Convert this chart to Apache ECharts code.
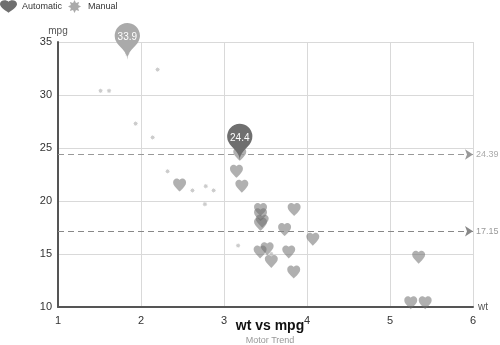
<!DOCTYPE html>
<html>
<head>
<meta charset="utf-8">
<script src="https://cdn.jsdelivr.net/npm/echarts@6/dist/echarts.min.js"></script>
<style>html,body{margin:0;padding:0;background:#fff}#c{width:500px;height:345px}</style>
</head>
<body>
<div id="c"></div>
<script>
// Automatic (am = 0)
var autoWt  = [3.215, 3.440, 3.460, 3.570, 3.190, 3.150, 3.440, 3.440, 4.070, 3.730, 3.780, 5.250, 5.424, 5.345, 2.465, 3.520, 3.435, 3.840, 3.845];
var autoMpg = [21.4, 18.7, 18.1, 14.3, 24.4, 22.8, 19.2, 17.8, 16.4, 17.3, 15.2, 10.4, 10.4, 14.7, 21.5, 15.5, 15.2, 13.3, 19.2];
// Manual (am = 1)
var manWt  = [2.620, 2.875, 2.320, 2.200, 1.615, 1.835, 1.935, 2.140, 1.513, 3.170, 2.770, 3.570, 2.780];
var manMpg = [21.0, 21.0, 22.8, 32.4, 30.4, 33.9, 27.3, 26.0, 30.4, 15.8, 19.7, 15.0, 21.4];
var seriesNames = ['Automatic', 'Manual'];
var xTicks = [1, 2, 3, 4, 5, 6];
var yTicks = [10, 15, 20, 25, 30, 35];

var heartAbs = 'M12,21.35 L10.55,20.03 C5.4,15.36 2,12.28 2,8.5 C2,5.42 4.42,3 7.5,3 C9.24,3 10.91,3.81 12,5.09 C13.09,3.81 14.76,3 16.5,3 C19.58,3 22,5.42 22,8.5 C22,12.28 18.6,15.36 13.45,20.04 L12,21.35 Z';
function scaleX(p, sx) {
  return p.replace(/(-?\d+(?:\.\d+)?),(-?\d+(?:\.\d+)?)/g, function (m, a, b) { return (parseFloat(a) * sx).toFixed(2) + ',' + b; });
}
var heart = 'path://' + heartAbs;
var heartWide = 'path://' + scaleX(heartAbs, 1.25);
var star = 'path://M10,0L12.3,4.46L17.07,2.93L15.54,7.7L20,10L15.54,12.3L17.07,17.07L12.3,15.54L10,20L7.7,15.54L2.93,17.07L4.46,12.3L0,10L4.46,7.7L2.93,2.93L7.7,4.46Z';

function pairs(xs, ys) { return xs.map(function (x, i) { return [x, ys[i]]; }); }
function avgLabel(p) { return p.value.toFixed(2); }

var chart = echarts.init(document.getElementById('c'), null, {renderer: 'canvas'});
chart.setOption({
  animation: false,
  title: {
    text: 'wt vs mpg', subtext: 'Motor Trend',
    left: 265, top: 314, textAlign: 'center', itemGap: 3,
    textStyle: {fontSize: 14, fontWeight: 'bold', color: '#111', fontFamily: 'Liberation Sans'},
    subtextStyle: {fontSize: 9, color: '#999', fontFamily: 'Liberation Sans'}
  },
  legend: {
    left: 0, top: 0, padding: [0, 0], itemWidth: 17, itemHeight: 13, itemGap: 6,
    textStyle: {fontSize: 9, color: '#333', fontFamily: 'Liberation Sans'},
    data: [
      {name: seriesNames[0], icon: heartWide, itemStyle: {opacity: 1}},
      {name: seriesNames[1], icon: star, itemStyle: {opacity: 1}}
    ]
  },
  grid: {left: 58, right: 27, top: 42, bottom: 38, containLabel: false},
  xAxis: {
    type: 'value', min: xTicks[0], max: xTicks[xTicks.length - 1], interval: 1,
    name: 'wt', nameGap: 5, nameTextStyle: {fontSize: 10, color: '#555', verticalAlign: 'middle'},
    axisLine: {lineStyle: {color: '#555', width: 2}},
    axisTick: {show: false},
    axisLabel: {color: '#333', fontSize: 11, margin: 8, fontFamily: 'Liberation Sans'},
    splitLine: {lineStyle: {color: '#d9d9d9'}}
  },
  yAxis: {
    type: 'value', min: yTicks[0], max: yTicks[yTicks.length - 1], interval: 5,
    name: 'mpg', nameGap: 4, nameTextStyle: {fontSize: 10, color: '#555'},
    axisLine: {show: true, lineStyle: {color: '#555', width: 2}},
    axisTick: {show: false},
    axisLabel: {color: '#333', fontSize: 11, margin: 6, fontFamily: 'Liberation Sans'},
    splitLine: {lineStyle: {color: '#d9d9d9'}}
  },
  series: [
    {
      name: seriesNames[0], type: 'scatter', symbol: heart, symbolSize: 13,
      itemStyle: {color: '#6f6f6f', opacity: 0.55},
      data: pairs(autoWt, autoMpg),
      markPoint: {
        symbol: 'pin', symbolSize: 42, symbolOffset: [0, 6],
        itemStyle: {color: '#6f6f6f', opacity: 1},
        label: {color: '#fff', fontSize: 10, fontFamily: 'Liberation Sans'},
        data: [{type: 'max', valueIndex: 1}]
      },
      markLine: {
        symbol: ['none', 'arrow'], symbolSize: 8,
        lineStyle: {color: '#888', type: [6, 4], width: 1},
        label: {color: '#999', fontSize: 9, distance: 3, formatter: avgLabel},
        data: [{type: 'average', valueIndex: 1}]
      }
    },
    {
      name: seriesNames[1], type: 'scatter', symbol: star, symbolSize: 5,
      itemStyle: {color: '#aaaaaa', opacity: 0.6},
      data: pairs(manWt, manMpg),
      markPoint: {
        symbol: 'pin', symbolSize: 42, symbolOffset: [0, 6],
        itemStyle: {color: '#aaaaaa', opacity: 1},
        label: {color: '#fff', fontSize: 10, fontFamily: 'Liberation Sans'},
        data: [{type: 'max', valueIndex: 1}]
      },
      markLine: {
        symbol: ['none', 'arrow'], symbolSize: 8,
        lineStyle: {color: '#999', type: [6, 4], width: 1},
        label: {color: '#aaa', fontSize: 9, distance: 3, formatter: avgLabel},
        data: [{type: 'average', valueIndex: 1}]
      }
    }
  ]
});
</script>
</body>
</html>
